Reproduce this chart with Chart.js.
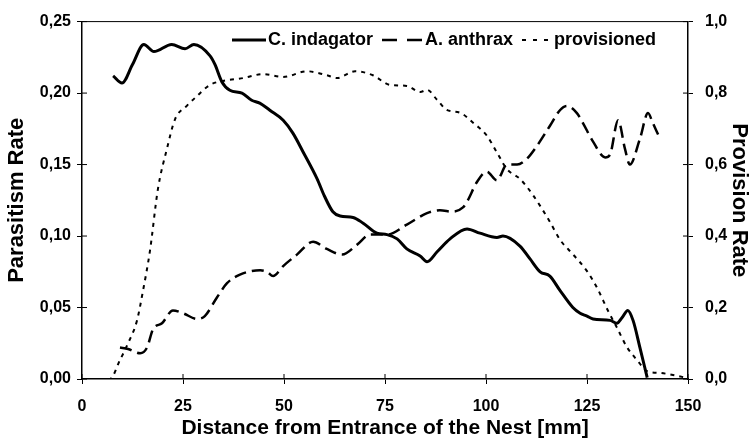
<!DOCTYPE html>
<html>
<head>
<meta charset="utf-8">
<script src="https://cdn.jsdelivr.net/npm/chart.js@4"></script>
<style>
  body { margin: 0; background: #fff; }
  #wrap { width: 752px; height: 445px; }
</style>
</head>
<body>
<div id="wrap"><canvas id="chart" width="752" height="445"></canvas></div>
<script>
// C. indagator (left axis)
const indagatorX = [7.7, 9.9, 12.5, 15.3, 17.8, 22.2, 25.5, 27.7, 31.7, 32.9, 34.6, 36.6, 39.6, 42, 44, 46.5, 49.8, 52.2, 54.7, 58.2, 60, 62.1, 63.9, 67.1, 69.6, 73, 75.5, 78, 80.4, 83.7, 85.4, 87.9, 91.1, 95.3, 98.5, 102.7, 104.2, 108.4, 110.9, 113.4, 115.8, 118.3, 121.5, 123.3, 125, 126.5, 130.7, 132.4, 133.7, 135.1, 136.4, 138.1, 139.9];
const indagatorY = [0.212, 0.207, 0.220, 0.234, 0.229, 0.234, 0.231, 0.234, 0.226, 0.220, 0.208, 0.202, 0.200, 0.195, 0.193, 0.188, 0.181, 0.172, 0.159, 0.140, 0.128, 0.117, 0.114, 0.113, 0.109, 0.102, 0.101, 0.098, 0.091, 0.086, 0.082, 0.089, 0.098, 0.105, 0.102, 0.099, 0.100, 0.093, 0.084, 0.075, 0.072, 0.062, 0.050, 0.046, 0.044, 0.042, 0.041, 0.039, 0.043, 0.048, 0.041, 0.022, 0.001];

// A. anthrax (left axis)
const anthraxX = [9.4, 11.4, 14.4, 16.1, 17.6, 19.8, 22.5, 25, 28.5, 30.4, 33.4, 35.9, 39.1, 44.1, 45.8, 47.3, 49.8, 53.2, 57.2, 60.6, 64.4, 68.1, 71.3, 75.5, 80.4, 85.4, 88.6, 91.8, 94.3, 95.3, 97.8, 100.2, 102.7, 105.2, 107.7, 110.1, 112.6, 115.8, 118.3, 120, 122.5, 124, 126.5, 129.5, 130.7, 132.7, 134.4, 135.6, 138.1, 140.1, 141.3, 142.6];
const anthraxY = [0.022, 0.021, 0.018, 0.022, 0.035, 0.039, 0.048, 0.046, 0.042, 0.044, 0.057, 0.067, 0.073, 0.076, 0.075, 0.072, 0.079, 0.087, 0.096, 0.091, 0.087, 0.094, 0.101, 0.101, 0.108, 0.116, 0.118, 0.117, 0.120, 0.124, 0.138, 0.145, 0.139, 0.150, 0.150, 0.154, 0.163, 0.177, 0.188, 0.191, 0.186, 0.179, 0.166, 0.155, 0.157, 0.181, 0.161, 0.150, 0.168, 0.186, 0.179, 0.171];

// provisioned (right axis)
const provX = [2, 6.9, 9.4, 11.4, 13.6, 15.1, 16.8, 18.8, 21, 23, 26, 28.5, 31.7, 34.9, 39.9, 44.8, 49.8, 55.7, 60.6, 63.1, 67.6, 72, 76.2, 80.4, 83.7, 85.4, 87.9, 90.3, 93.6, 96.8, 100.2, 102.7, 105.2, 108.4, 111.6, 115.8, 118.3, 121.5, 125, 127.5, 130.2, 132.4, 134.9, 137.4, 139.9, 143.1, 149.8];
const provY = [0, 0, 0.053, 0.1, 0.163, 0.247, 0.357, 0.532, 0.643, 0.726, 0.765, 0.792, 0.823, 0.834, 0.842, 0.853, 0.845, 0.861, 0.85, 0.842, 0.861, 0.85, 0.823, 0.82, 0.803, 0.809, 0.781, 0.753, 0.745, 0.717, 0.681, 0.634, 0.587, 0.56, 0.515, 0.44, 0.39, 0.349, 0.302, 0.255, 0.191, 0.144, 0.089, 0.053, 0.022, 0.017, 0.003];

const seriesLabels = ['C. indagator', 'A. anthrax', 'provisioned'];
const FONT = 'Liberation Sans, Arial, sans-serif';

function pts(xs, ys) {
    return xs.map((x, i) => ({ x: x, y: ys[i] }));
}

// draws the inner half of each tick so the marks cross the axis line
const crossTicks = {
    id: 'crossTicks',
    afterDraw(chart) {
        const ctx = chart.ctx;
        const a = chart.chartArea;
        ctx.save();
        ctx.strokeStyle = '#000';
        ctx.lineWidth = 1;
        chart.scales.x.ticks.forEach(t => {
            const px = chart.scales.x.getPixelForValue(t.value);
            ctx.beginPath(); ctx.moveTo(px, a.bottom); ctx.lineTo(px, a.bottom - 5); ctx.stroke();
        });
        chart.scales.y.ticks.forEach(t => {
            const py = chart.scales.y.getPixelForValue(t.value);
            ctx.beginPath(); ctx.moveTo(a.left, py); ctx.lineTo(a.left + 5, py); ctx.stroke();
        });
        chart.scales.y2.ticks.forEach(t => {
            const py = chart.scales.y2.getPixelForValue(t.value);
            ctx.beginPath(); ctx.moveTo(a.right, py); ctx.lineTo(a.right - 5, py); ctx.stroke();
        });
        // top frame line
        ctx.beginPath(); ctx.moveTo(a.left, a.top); ctx.lineTo(a.right, a.top); ctx.stroke();
        ctx.restore();
    }
};

// legend drawn inside the plot, along the top
const legendSpots = [
    { line: [232, 266], text: 268 },
    { line: [382, 423], text: 425 },
    { line: [522, 549], text: 554 }
];
const innerLegend = {
    id: 'innerLegend',
    afterDraw(chart) {
        const ctx = chart.ctx;
        ctx.save();
        ctx.font = 'bold 18px ' + FONT;
        ctx.textBaseline = 'middle';
        ctx.fillStyle = '#000';
        const y = 40;
        chart.data.datasets.forEach((ds, i) => {
            const s = legendSpots[i];
            ctx.strokeStyle = '#000';
            ctx.lineWidth = ds.borderWidth;
            ctx.setLineDash(i === 1 ? [15, 10] : i === 2 ? [4, 7] : []);
            ctx.beginPath(); ctx.moveTo(s.line[0], y); ctx.lineTo(s.line[1], y); ctx.stroke();
            ctx.setLineDash([]);
            ctx.fillText(ds.label, s.text, y);
        });
        ctx.restore();
    }
};

new Chart(document.getElementById('chart'), {
    type: 'line',
    data: {
        datasets: [
            { label: seriesLabels[0], data: pts(indagatorX, indagatorY), yAxisID: 'y', borderColor: '#000', borderWidth: 3, pointRadius: 0, cubicInterpolationMode: 'monotone' },
            { label: seriesLabels[1], data: pts(anthraxX, anthraxY), yAxisID: 'y', borderColor: '#000', borderWidth: 2.5, borderDash: [12, 6], pointRadius: 0, cubicInterpolationMode: 'monotone' },
            { label: seriesLabels[2], data: pts(provX, provY), yAxisID: 'y2', borderColor: '#000', borderWidth: 2, borderDash: [4, 5], pointRadius: 0, cubicInterpolationMode: 'monotone' }
        ]
    },
    options: {
        responsive: false,
        animation: false,
        layout: { padding: { top: 18, left: 0, right: 0, bottom: 0 } },
        plugins: {
            legend: { display: false },
            tooltip: { enabled: false }
        },
        scales: {
            x: {
                type: 'linear',
                min: 0, max: 150,
                border: { color: '#000', width: 1.5 },
                grid: { drawOnChartArea: false, color: '#000', tickLength: 5 },
                ticks: { stepSize: 25, color: '#000', font: { family: FONT, size: 16, weight: 'bold' }, padding: 13 },
                title: { display: true, text: 'Distance from Entrance of the Nest [mm]', color: '#000', font: { family: FONT, size: 21, weight: 'bold' }, padding: { top: 0, bottom: 4 } },
                afterFit(s) { s.height = 66; }
            },
            y: {
                position: 'left',
                min: 0, max: 0.25,
                border: { color: '#000', width: 1.5 },
                grid: { drawOnChartArea: false, color: '#000', tickLength: 5 },
                ticks: {
                    stepSize: 0.05, color: '#000', padding: 6,
                    font: { family: FONT, size: 16, weight: 'bold' },
                    callback: v => v.toFixed(2).replace('.', ',')
                },
                title: { display: true, text: 'Parasitism Rate', color: '#000', font: { family: FONT, size: 22, weight: 'bold' }, padding: { top: 4, bottom: 0 } },
                afterFit(s) { s.width = 82; }
            },
            y2: {
                position: 'right',
                min: 0, max: 1,
                border: { color: '#000', width: 1.5 },
                grid: { drawOnChartArea: false, color: '#000', tickLength: 5 },
                ticks: {
                    stepSize: 0.2, color: '#000', padding: 12,
                    font: { family: FONT, size: 16, weight: 'bold' },
                    callback: v => v.toFixed(1).replace('.', ',')
                },
                title: { display: true, text: 'Provision Rate', color: '#000', font: { family: FONT, size: 22, weight: 'bold' }, padding: { top: 0, bottom: 0 } },
                afterFit(s) { s.width = 64; }
            }
        }
    },
    plugins: [crossTicks, innerLegend]
});
</script>
</body>
</html>
